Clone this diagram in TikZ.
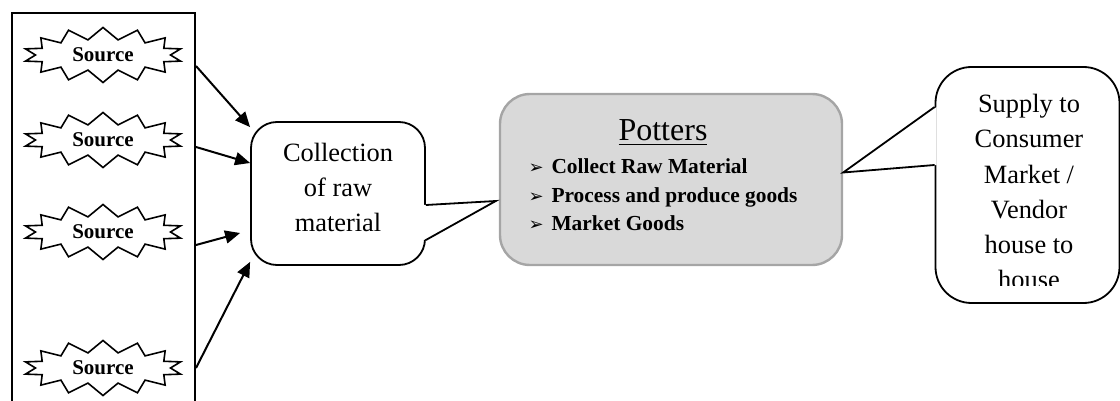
\documentclass[tikz,border=0pt]{standalone}
\usepackage{fontspec}
\setmainfont{Liberation Serif}
\newfontfamily\symfont{DejaVu Sans}
\usetikzlibrary{shapes.symbols,arrows.meta,calc}
\definecolor{potgray}{RGB}{217,217,217}
\definecolor{potline}{RGB}{165,165,165}
\newcommand{\bul}{\makebox[11.5pt][l]{\symfont\fontsize{9}{9}\selectfont ➢}}

\begin{document}
\begin{tikzpicture}[x=0.5pt,y=-0.5pt,
  src/.style={starburst, starburst points=14, starburst point height=6pt, random starburst=0, draw, line width=0.8pt, inner sep=0pt, minimum width=79.5pt, minimum height=27.5pt, font=\fontsize{10.5}{12}\selectfont\bfseries},
  feed/.style={line width=1pt, -{Triangle[length=7.5pt,width=6.5pt]}},
  bubble/.style={draw, line width=0.9pt, fill=white}]
\useasboundingbox (0,0) rectangle (1120,401);
\clip (0,0) rectangle (1120,401);
\node[draw, line width=1pt, minimum width=91.5pt, minimum height=208.5pt, inner sep=0pt] (frame) at (103.5,221.5) {};
\node[src] (src1) at (103,55) {Source};
\node[src] (src2) at (103,140) {Source};
\node[src] (src3) at (103,232) {Source};
\node[src] (src4) at (103,368) {Source};
\node[bubble, rounded corners=13pt, minimum width=87pt, minimum height=71.5pt, align=center, text depth=6pt, font=\fontsize{13.2}{17.6}\selectfont] (collect) at (338,193.5) {Collection\\of raw\\material};
\node[draw=potline, fill=potgray, line width=1.2pt, rounded corners=15pt, minimum width=171pt, minimum height=85.5pt, font=\fontsize{10.7}{14.2}\selectfont] (potters) at (671,179.5) {\begin{tabular}{@{}l@{\hspace{8pt}}}
  \multicolumn{1}{@{}c@{\hspace{8pt}}}{\fontsize{16}{16}\selectfont\underline{Potters}}\\[2.3pt]
  \bul\textbf{Collect Raw Material}\\
  \bul\textbf{Process and produce goods}\\
  \bul\textbf{Market Goods}
\end{tabular}};
\node[bubble, rounded corners=18pt, minimum width=92pt, minimum height=118pt] (supply) at (1027.5,185) {};
\begin{scope}
\clip (900,60) rectangle (1120,285);
\node[align=center, inner sep=0pt, anchor=north, font=\fontsize{13.2}{17.6}\selectfont] (supplytext) at (1029,94) {Supply to\\Consumer\\Market /\\Vendor\\house to\\house};
\end{scope}
\coordinate (tipA) at ($(potters.west)+(-3,21.5)$);
\coordinate (tipB) at ($(potters.east)+(0,-7)$);
\fill[white] ($(collect.east)+(-2,11.5)$) -- (tipA) -- ($(collect.east)+(-2,46.5)$) -- cycle;
\draw[line width=0.9pt] ($(collect.east)+(0,11.5)$) -- (tipA) -- ($(collect.east)+(0,46.5)$);
\fill[white] ($(supply.west)+(2,-78)$) -- (tipB) -- ($(supply.west)+(2,-20)$) -- cycle;
\draw[line width=0.9pt] ($(supply.west)+(0,-78)$) -- (tipB) -- ($(supply.west)+(0,-20)$);
\draw[feed] ($(frame.east |- src1)+(0,11)$) -- ([yshift=-3pt]collect.north west);
\draw[feed] ($(frame.east |- src2)+(0,7)$) -- ($(collect.west)+(0,-30.5)$);
\draw[feed] ($(frame.east |- src3)+(0,13)$) -- ($(collect.west)+(-10,39.5)$);
\draw[feed] (frame.east |- src4) -- ($(collect.south west)+(0,-4)$);
\end{tikzpicture}
\end{document}
